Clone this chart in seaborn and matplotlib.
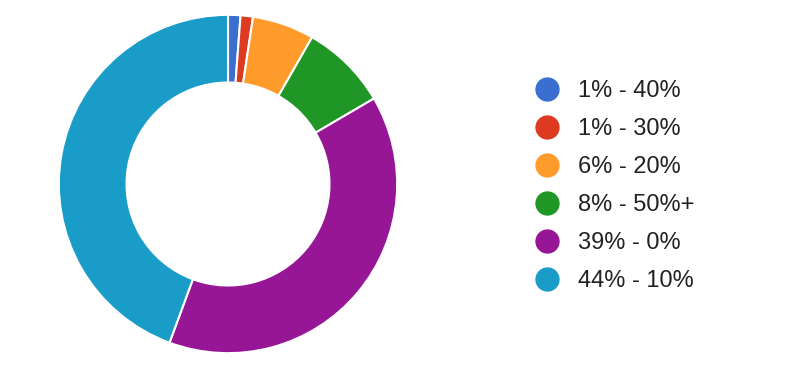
import matplotlib
matplotlib.use("Agg")
import matplotlib.pyplot as plt
from matplotlib.lines import Line2D
import seaborn as sns

# counts behind the percentages
labels = ["1% - 40%", "1% - 30%", "6% - 20%", "8% - 50%+", "39% - 0%", "44% - 10%"]
counts = [2, 2, 10, 14, 66, 75]
colors = ["#3a6fd0", "#dc3b22", "#ff9b2a", "#1f9626", "#961696", "#1a9cc8"]

sns.set_style("white")
plt.rcParams['font.family'] = ['Liberation Sans', 'DejaVu Sans']
palette = sns.color_palette(colors)

fig = plt.figure(figsize=(7.94, 3.86), dpi=100)
ax = fig.add_axes([58/794, 32/386, 340/794, 340/386])
ax.pie(counts, colors=palette, startangle=90, counterclock=False, radius=1,
       wedgeprops=dict(width=0.4, edgecolor="white", linewidth=1.5))
ax.set_xlim(-1.005, 1.005)
ax.set_ylim(-1.005, 1.005)
ax.set_aspect("equal")
ax.axis("off")

handles = [Line2D([0], [0], marker="o", linestyle="", markersize=16.5,
                  markerfacecolor=c, markeredgecolor=c) for c in palette]
fig.legend(handles, labels, loc="center left", bbox_to_anchor=(523/794, 1 - 186/386),
           frameon=False, fontsize=17, labelspacing=0.68, handletextpad=0.71,
           handlelength=1.2, borderaxespad=0, labelcolor="#222222")

fig.savefig("out.png", dpi=100)
